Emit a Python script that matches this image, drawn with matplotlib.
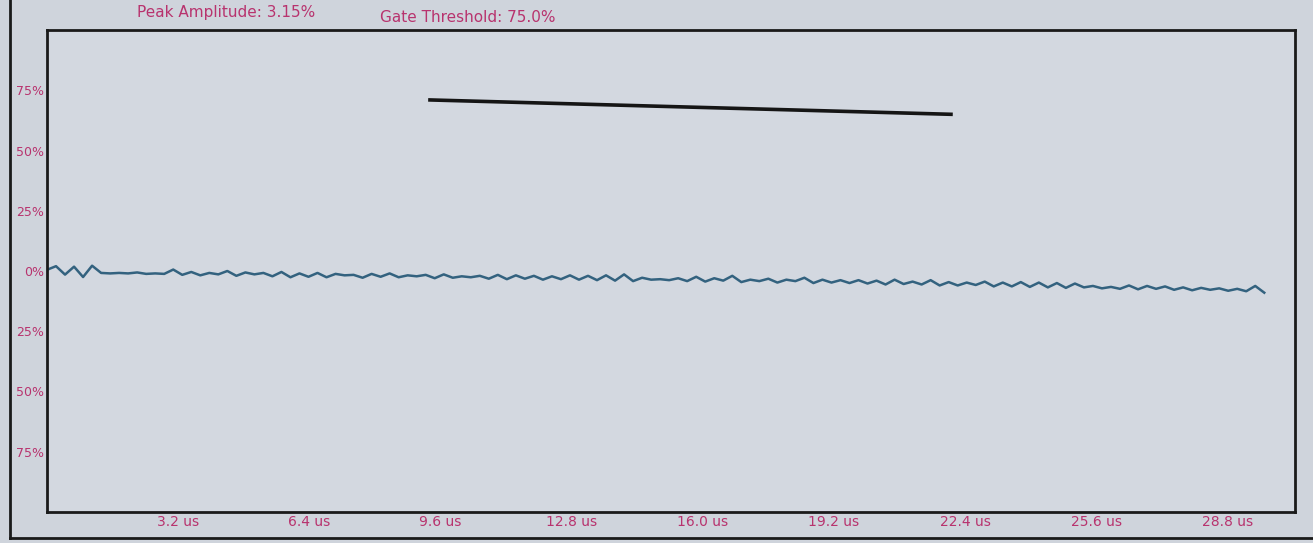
"""
Ultrasonic A-scan trace with gate, redrawn from a screen photo.
Saves out.png.
"""

import matplotlib.pyplot as plt
import numpy as np

# sample spacing of the trace, microseconds
DT_US = 0.22

# trace amplitude, % of full screen height
amplitude = [
    0.5, 2.0, -1.5, 1.8, -2.5, 2.2, -0.8, -1.0, -0.8, -1.0,
    -0.6, -1.2, -1.0, -1.2, 0.6, -1.6, -0.4, -1.8, -0.8, -1.4,
    0.0, -2.0, -0.6, -1.4, -0.8, -2.2, -0.4, -2.6, -1.0, -2.4,
    -0.8, -2.6, -1.2, -1.8, -1.6, -2.8, -1.2, -2.4, -1.0, -2.6,
    -1.8, -2.2, -1.6, -3.0, -1.4, -2.8, -2.2, -2.6, -2.0, -3.2,
    -1.6, -3.4, -1.8, -3.2, -2.0, -3.6, -2.2, -3.4, -1.8, -3.6,
    -2.0, -3.8, -1.8, -4.0, -1.4, -4.2, -2.8, -3.6, -3.4, -3.8,
    -3.0, -4.2, -2.4, -4.4, -3.0, -4.0, -2.0, -4.6, -3.6, -4.2,
    -3.2, -4.8, -3.6, -4.2, -2.8, -5.0, -3.6, -4.8, -3.8, -5.0,
    -3.8, -5.2, -4.0, -5.6, -3.6, -5.4, -4.4, -5.6, -3.8, -6.0,
    -4.6, -6.0, -4.8, -5.8, -4.4, -6.4, -4.8, -6.4, -4.6, -6.6,
    -4.8, -6.8, -5.0, -7.0, -5.2, -6.8, -6.2, -7.2, -6.6, -7.4,
    -6.0, -7.6, -6.2, -7.4, -6.4, -7.8, -6.8, -8.0, -7.0, -7.8,
    -7.2, -8.2, -7.4, -8.4, -6.2, -9.0,
]

# gate (start/end time in us, level in %)
gate_time = [9.3, 22.1]
gate_level = [71.0, 65.0]

y_ticks = [75, 50, 25, 0, -25, -50, -75]
y_labels = ["75%", "50%", "25%", "0%", "25%", "50%", "75%"]
x_ticks = [3.2, 6.4, 9.6, 12.8, 16.0, 19.2, 22.4, 25.6, 28.8]
x_labels = ["3.2 us", "6.4 us", "9.6 us", "12.8 us", "16.0 us",
            "19.2 us", "22.4 us", "25.6 us", "28.8 us"]

BG = "#cfd4dc"
PINK = "#b8336e"
TRACE = "#33627f"

t = np.arange(len(amplitude)) * DT_US

fig = plt.figure(figsize=(13.13, 5.43), dpi=100, facecolor=BG)
ax = fig.add_axes([47 / 1313, 1 - 512 / 543, (1295 - 47) / 1313, (512 - 30) / 543])
ax.set_facecolor("#d3d8e0")

ax.plot(t, amplitude, color=TRACE, lw=1.8)
ax.plot(gate_time, gate_level, color="#151515", lw=2.6, solid_capstyle="butt")

ax.set_xlim(0, 30.45)
ax.set_ylim(-100, 100)
ax.set_yticks(y_ticks)
ax.set_yticklabels(y_labels, fontsize=9, color=PINK)
ax.set_xticks(x_ticks)
ax.set_xticklabels(x_labels, fontsize=10, color=PINK)
ax.tick_params(length=0, pad=2)
for s in ax.spines.values():
    s.set_color("#1a1a1a")
    s.set_linewidth(2)

fig.text(137 / 1313, 1 - 13 / 543, "Peak Amplitude: 3.15%", color=PINK,
         fontsize=11, va="center", ha="left")
fig.text(380 / 1313, 1 - 17 / 543, "Gate Threshold: 75.0%", color=PINK,
         fontsize=11, va="center", ha="left")

# outer window frame
fig.add_artist(plt.Line2D([10 / 1313, 10 / 1313], [1 - 538 / 543, 1.0],
                          color="#1a1a1a", lw=2))
fig.add_artist(plt.Line2D([10 / 1313, 1.0], [1 - 538 / 543, 1 - 538 / 543],
                          color="#1a1a1a", lw=2))

fig.savefig("out.png", dpi=100, facecolor=BG)
